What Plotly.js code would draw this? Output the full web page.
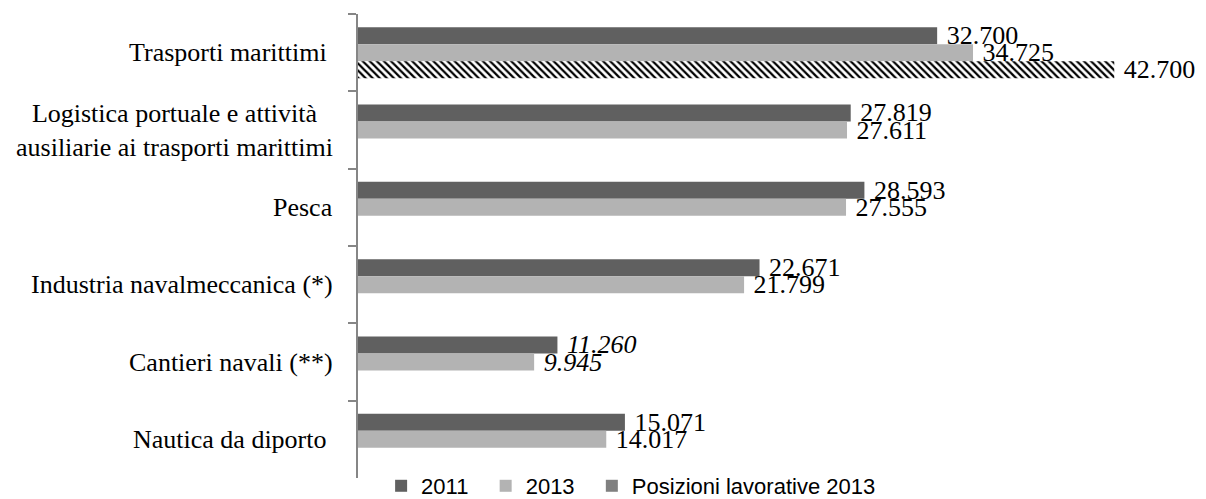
<!DOCTYPE html>
<html>
<head>
<meta charset="utf-8">
<script src="https://cdn.plot.ly/plotly-3.0.1.min.js"></script>
<style>
  html, body { margin: 0; padding: 0; background: #ffffff; }
  #chart { width: 1206px; height: 499px; }
</style>
</head>
<body>
<div id="chart"></div>
<script>
// ---- data ----
const categories = [
  "Trasporti marittimi",
  "Logistica portuale e attività ausiliarie ai trasporti marittimi",
  "Pesca",
  "Industria navalmeccanica (*)",
  "Cantieri navali (**)",
  "Nautica da diporto"
];
const categoryLabels = [
  "Trasporti marittimi\u00a0",
  "Logistica portuale e attività<br>ausiliarie ai trasporti marittimi",
  "Pesca",
  "Industria navalmeccanica (*)",
  "Cantieri navali (**)",
  "Nautica da diporto\u00a0"
];
const seriesNames = ["2011", "2013", "Posizioni lavorative 2013"];
const values2011 = [32700, 27819, 28593, 22671, 11260, 15071];
const values2013 = [34725, 27611, 27555, 21799, 9945, 14017];
const positions2013 = [42700, null, null, null, null, null];
const italicLabel = [false, false, false, false, true, false];

// ---- styles ----
const serif = "Liberation Serif";
const sans = "Liberation Sans";
const pad = "\u00a0\u00a0";
const labelTemplates = italicLabel.map(it => it ? "\u00a0<i>%{x:,}</i>" : "\u00a0%{x:,}");

const common = {
  type: "bar",
  orientation: "h",
  y: categories,
  textposition: "outside",
  cliponaxis: false,
  constraintext: "none",
  textfont: { family: serif, size: 26, color: "#000000" },
  texttemplate: labelTemplates,
  hoverinfo: "skip"
};

const traces = [
  Object.assign({}, common, {
    name: seriesNames[0] + pad, x: values2011,
    marker: { color: "#606060", line: { width: 0 } }
  }),
  Object.assign({}, common, {
    name: seriesNames[1] + pad, x: values2013,
    marker: { color: "#b3b3b3", line: { width: 0 } }
  }),
  Object.assign({}, common, {
    name: seriesNames[2], x: positions2013, showlegend: false,
    marker: {
      color: "#000000", line: { width: 0 },
      pattern: { shape: "\\", fgcolor: "#000000", bgcolor: "#ffffff", size: 5, solidity: 0.45 }
    }
  }),
  // legend proxy (Excel shows a plain grey square for this series); its bars fall outside a hidden axis range
  {
    type: "bar", orientation: "h", name: seriesNames[2],
    x: positions2013, y: categories, xaxis: "x2", yaxis: "y2",
    marker: { color: "#808080", line: { width: 0 } }, hoverinfo: "skip"
  }
];

const annotations = categories.map((c, i) => ({
  xref: "paper", yref: "y", x: -0.029, y: c,
  xanchor: "right", yanchor: "middle", align: "center",
  text: categoryLabels[i], showarrow: false,
  font: { family: serif, size: 26, color: "#000000" }
}));

const layout = {
  width: 1206, height: 499,
  margin: { l: 358, r: 51, t: 14, b: 21, autoexpand: false },
  paper_bgcolor: "#ffffff", plot_bgcolor: "#ffffff",
  font: { family: serif },
  separators: ",.",
  barmode: "group",
  bargap: 0.34,
  bargroupgap: 0,
  showlegend: true,
  xaxis: {
    range: [0, 45000], showgrid: false, zeroline: false,
    showline: false, showticklabels: false, ticks: "", fixedrange: true
  },
  yaxis: {
    type: "category", autorange: "reversed",
    showline: true, linecolor: "#868686", linewidth: 2,
    ticks: "outside", tickson: "boundaries", ticklen: 8,
    tickcolor: "#868686", tickwidth: 2,
    showticklabels: false, showgrid: false, zeroline: false, fixedrange: true
  },
  xaxis2: { overlaying: "x", visible: false, range: [-2, -1], fixedrange: true },
  yaxis2: { overlaying: "y", visible: false, type: "category", fixedrange: true },
  legend: {
    orientation: "h", x: 0.029, xanchor: "left",
    y: -0.0172, yanchor: "middle",
    font: { family: sans, size: 22, color: "#000000" },
    bgcolor: "rgba(0,0,0,0)", borderwidth: 0,
    traceorder: "normal"
  },
  annotations: annotations
};

Plotly.newPlot("chart", traces, layout, { displayModeBar: false, staticPlot: true });
</script>
</body>
</html>
